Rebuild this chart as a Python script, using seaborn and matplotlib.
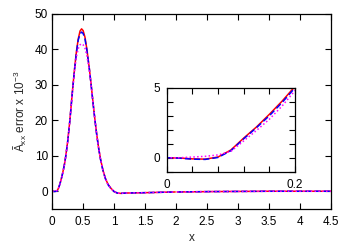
import matplotlib
matplotlib.use("Agg")
import matplotlib.pyplot as plt
import numpy as np
import pandas as pd
import seaborn as sns
from matplotlib.ticker import FixedLocator, MultipleLocator, FuncFormatter

# main panel: values (error x 10^-3)
x = [0, 0.04, 0.08, 0.10, 0.12, 0.14, 0.16, 0.18, 0.20, 0.22,
     0.25, 0.28, 0.30, 0.33, 0.36, 0.39, 0.42, 0.45, 0.475, 0.50,
     0.53, 0.56, 0.60, 0.63, 0.66, 0.69, 0.72, 0.75, 0.78, 0.82,
     0.86, 0.90, 0.95, 1.00, 1.05, 1.10, 1.20, 1.50, 1.985, 2.015,
     2.5, 3.0, 3.5, 4.0, 4.5]
red = [0, -0.05, 0.05, 0.8, 1.8, 3.0, 4.4, 6.0, 7.8, 10.0,
       14.0, 19.0, 22.8, 28.8, 34.3, 39.2, 42.9, 45.2, 45.8, 45.3,
       43.4, 40.1, 34.6, 29.9, 24.9, 20.2, 15.9, 12.2, 9.1, 5.9,
       3.6, 2.0, 0.8, -0.1, -0.5, -0.6, -0.5, -0.4, -0.2, -0.2,
       -0.1, -0.05, 0.0, 0.0, 0.0]
blue = [0, -0.07, 0.03, 0.75, 1.75, 2.95, 4.35, 5.95, 7.7, 9.9,
        13.9, 18.9, 22.7, 28.7, 34.1, 38.9, 42.6, 44.4, 44.9, 44.5,
        42.9, 39.8, 34.5, 29.8, 24.8, 20.1, 15.8, 12.1, 9.0, 5.8,
        3.5, 1.9, 0.7, -0.1, -0.5, -0.6, -0.5, -0.4, -0.2, -0.2,
        -0.1, -0.05, 0.0, 0.0, 0.0]
magenta = [0, 0.05, 0.2, 0.7, 1.6, 2.8, 4.2, 5.8, 7.6, 9.8,
           13.8, 18.8, 22.5, 28.4, 33.8, 37.8, 40.2, 41.3, 41.6, 41.3,
           40.3, 38.3, 34.0, 29.7, 24.8, 20.1, 15.8, 12.1, 9.0, 5.8,
           3.5, 1.9, 0.7, -0.1, -0.5, -0.6, -0.5, -0.4, -0.2, -0.2,
           -0.1, -0.05, 0.0, 0.0, 0.0]

# inset: close-up of the onset
x_inset = [0, 0.02, 0.04, 0.06, 0.08, 0.10, 0.12, 0.14, 0.16, 0.18, 0.20, 0.21]
red_inset = [0, -0.02, -0.08, -0.1, 0.05, 0.55, 1.4, 2.2, 3.1, 4.05, 5.1, 5.6]
blue_inset = [0, -0.03, -0.1, -0.12, 0.02, 0.5, 1.35, 2.15, 3.0, 3.95, 5.0, 5.5]
magenta_inset = [0, 0.0, 0.05, 0.1, 0.2, 0.45, 1.2, 1.95, 2.75, 3.7, 4.8, 5.3]

styles = {"red": "-", "blue": (0, (4, 2)), "magenta": (0, (1, 1.5))}


def long_form(xs, cols):
    frames = []
    for name, vals in cols.items():
        d = pd.DataFrame({"x": xs, "y": vals})
        d["series"] = name
        d["seg"] = (d["x"] > 2).astype(int)  # data comes in two pieces, split at x=2
        frames.append(d)
    return pd.concat(frames, ignore_index=True)


df = long_form(x, {"red": red, "blue": blue, "magenta": magenta})
df_in = long_form(x_inset, {"red": red_inset, "blue": blue_inset, "magenta": magenta_inset})

sns.set_theme(style="ticks")
plt.rcParams['font.family'] = ['Liberation Sans', 'DejaVu Sans']
plt.rcParams['mathtext.fontset'] = 'custom'
plt.rcParams['mathtext.rm'] = 'Liberation Sans'
plt.rcParams['mathtext.it'] = 'Liberation Sans:italic'
plt.rcParams['mathtext.default'] = 'rm'

fig = plt.figure(figsize=(3.5, 2.45), dpi=100)
ax = fig.add_axes([0.149, 0.147, 0.797, 0.796])
axin = fig.add_axes([0.476, 0.299, 0.367, 0.343])

fmt = FuncFormatter(lambda v, p: "%g" % v)

for a, data in ((ax, df), (axin, df_in)):
    for name in styles:
        sns.lineplot(data=data[data["series"] == name], x="x", y="y", units="seg",
                     estimator=None, color=name, linestyle=styles[name],
                     linewidth=1.1, ax=a, legend=False)
    for s in a.spines.values():
        s.set_color("black")
        s.set_linewidth(0.9)
    a.tick_params(which="both", direction="in", top=True, right=True,
                  length=4, width=0.8, labelsize=8.5, colors="black")
    a.xaxis.set_major_formatter(fmt)
    a.yaxis.set_major_formatter(fmt)

ax.set_xlim(0, 4.5)
ax.set_ylim(-5, 50)
ax.xaxis.set_major_locator(MultipleLocator(0.5))
ax.yaxis.set_major_locator(FixedLocator([0, 10, 20, 30, 40, 50]))
ax.tick_params(axis="x", pad=5)
ax.tick_params(axis="y", pad=3)
ax.set_xlabel("x", fontsize=8.5, labelpad=3)
ax.set_ylabel("Ã$_{xx}$ error x 10$^{-3}$", fontsize=8.5, labelpad=4)

axin.set_xlim(0, 0.2)
axin.set_ylim(-1, 5)
axin.xaxis.set_major_locator(FixedLocator([0, 0.2]))
axin.xaxis.set_minor_locator(MultipleLocator(0.04))
axin.yaxis.set_major_locator(FixedLocator([0, 5]))
axin.yaxis.set_minor_locator(MultipleLocator(1))
axin.tick_params(axis="x", pad=5)
axin.tick_params(axis="y", pad=5)
axin.set_xlabel("")
axin.set_ylabel("")

fig.savefig("out.png", dpi=100)
